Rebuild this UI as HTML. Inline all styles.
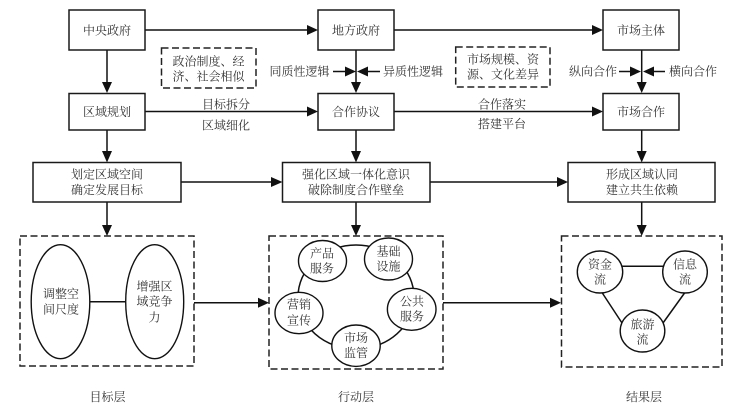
<!DOCTYPE html>
<html>
<head>
<meta charset="utf-8">
<style>
html,body{margin:0;padding:0;background:#fff;width:740px;height:412px;overflow:hidden}
svg{display:block;filter:blur(.3px)}
text{font-family:"Liberation Serif","Noto Serif CJK SC",serif;font-size:12px;fill:#333;text-anchor:middle}
.b{fill:#fff;stroke:#1a1a1a;stroke-width:1.5}
.d{fill:none;stroke:#222;stroke-width:1.5;stroke-dasharray:7 3.5}
.l{stroke:#111;stroke-width:1.5;fill:none}
.n{fill:#fff;stroke:#111;stroke-width:1.4}
.h{fill:#111}
</style>
</head>
<body>
<svg width="740" height="412" viewBox="0 0 740 412" xmlns="http://www.w3.org/2000/svg">
<!-- connectors -->
<path class="l" d="M145 30H308M394 30H593M145 111.5H308M394 111.5H593M181 182H272M430 182H558M194 302.7H259M443 302.7H551"/>
<path class="l" d="M107 50V82M107 130V152M107 202V226M356 50V82M356 130V152M356 202V226M641.7 50V82M641.7 130V152M641.7 202V226"/>
<path class="l" d="M333 71.5H346M368 71.5H380M619 71.5H631M654 71.5H665"/>
<!-- arrowheads -->
<path class="h" d="M307 25L318 30L307 35ZM592 25L603 30L592 35ZM307 106.5L318 111.5L307 116.5ZM592 106.5L603 111.5L592 116.5ZM271 177L282.5 182L271 187ZM557 177L568 182L557 187ZM258 297.7L269 302.7L258 307.7ZM550 297.7L561 302.7L550 307.7Z"/>
<path class="h" d="M102 82L112 82L107 93ZM102 151L112 151L107 162.5ZM102 225L112 225L107 236ZM351 82L361 82L356 93ZM351 151L361 151L356 162.5ZM351 225L361 225L356 236ZM636.7 82L646.7 82L641.7 93ZM636.7 151L646.7 151L641.7 162.5ZM636.7 225L646.7 225L641.7 236Z"/>
<path class="h" d="M345 66.5L356 71.5L345 76.5ZM368 66.5L357 71.5L368 76.5ZM630 66.5L641 71.5L630 76.5ZM654 66.5L643 71.5L654 76.5Z"/>
<!-- boxes -->
<rect class="b" x="69" y="10" width="76" height="40"/>
<rect class="b" x="318" y="10" width="76" height="40"/>
<rect class="b" x="603" y="10" width="76" height="40"/>
<rect class="b" x="69" y="93.5" width="76" height="36.5"/>
<rect class="b" x="318" y="93.5" width="76" height="36.5"/>
<rect class="b" x="603" y="93.5" width="76" height="36.5"/>
<rect class="b" x="33" y="162.5" width="148" height="39.5"/>
<rect class="b" x="282.5" y="162.5" width="147.5" height="39.5"/>
<rect class="b" x="568" y="162.5" width="147" height="39.5"/>
<!-- dashed boxes -->
<rect class="d" x="161.5" y="48" width="94.5" height="40"/>
<rect class="d" x="455.7" y="47" width="94.3" height="40"/>
<rect class="d" x="20" y="236" width="174" height="130"/>
<rect class="d" x="269" y="236" width="174" height="133"/>
<rect class="d" x="561.5" y="236" width="160.5" height="131"/>
<!-- left group -->
<path class="l" d="M90 301.7H125"/>
<ellipse class="n" cx="60.5" cy="301.7" rx="29.3" ry="57"/>
<ellipse class="n" cx="154.7" cy="301.7" rx="29" ry="57"/>
<!-- middle group -->
<ellipse class="l" cx="356" cy="297" rx="58" ry="52"/>
<ellipse class="n" cx="322.5" cy="261" rx="24" ry="20.5"/>
<ellipse class="n" cx="388.5" cy="259" rx="24" ry="21"/>
<ellipse class="n" cx="411.7" cy="309.3" rx="24.3" ry="21"/>
<ellipse class="n" cx="356" cy="345.7" rx="24.2" ry="20.7"/>
<ellipse class="n" cx="299" cy="313" rx="24" ry="20.7"/>
<!-- right group -->
<path class="l" d="M620 266.3H665M601 291L622 323M686 291L663 323"/>
<ellipse class="n" cx="600" cy="272" rx="22.7" ry="21"/>
<ellipse class="n" cx="685" cy="272" rx="22.3" ry="21"/>
<ellipse class="n" cx="642.5" cy="331" rx="22.3" ry="21"/>
<!-- labels -->
<text x="107" y="34.5">中央政府</text>
<text x="356" y="34.5">地方政府</text>
<text x="641" y="34.5">市场主体</text>
<text x="107" y="116">区域规划</text>
<text x="356" y="116">合作协议</text>
<text x="641" y="116">市场合作</text>
<text x="107" y="178.5">划定区域空间</text>
<text x="107" y="194">确定发展目标</text>
<text x="356" y="178.5">强化区域一体化意识</text>
<text x="356" y="194">破除制度合作壁垒</text>
<text x="642" y="178.5">形成区域认同</text>
<text x="642" y="194">建立共生依赖</text>
<text x="226" y="108.5">目标拆分</text>
<text x="226" y="129.5">区域细化</text>
<text x="502" y="108.5">合作落实</text>
<text x="502" y="128">搭建平台</text>
<text x="299.5" y="75.5">同质性逻辑</text>
<text x="413" y="75.5">异质性逻辑</text>
<text x="593" y="75.5">纵向合作</text>
<text x="693" y="75.5">横向合作</text>
<text x="208.5" y="65.5">政治制度、经</text>
<text x="208.5" y="80.5">济、社会相似</text>
<text x="503" y="63.5">市场规模、资</text>
<text x="503" y="78.5">源、文化差异</text>
<text x="61" y="298">调整空</text>
<text x="61" y="313.5">间尺度</text>
<text x="154.5" y="290.5">增强区</text>
<text x="154.5" y="305.5">域竞争</text>
<text x="154.5" y="321.5">力</text>
<text x="322" y="257.5">产品</text>
<text x="322" y="272.5">服务</text>
<text x="299" y="308.5">营销</text>
<text x="299" y="324.5">宣传</text>
<text x="356" y="342">市场</text>
<text x="356" y="357">监管</text>
<text x="388.5" y="255.5">基础</text>
<text x="388.5" y="270.5">设施</text>
<text x="412" y="305.5">公共</text>
<text x="412" y="320.5">服务</text>
<text x="600" y="268.5">资金</text>
<text x="600" y="283.5">流</text>
<text x="685" y="268.5">信息</text>
<text x="685" y="283.5">流</text>
<text x="642.5" y="328.5">旅游</text>
<text x="642.5" y="343.5">流</text>
<text x="107.5" y="401">目标层</text>
<text x="356" y="401">行动层</text>
<text x="644" y="401">结果层</text>
</svg>
</body>
</html>
